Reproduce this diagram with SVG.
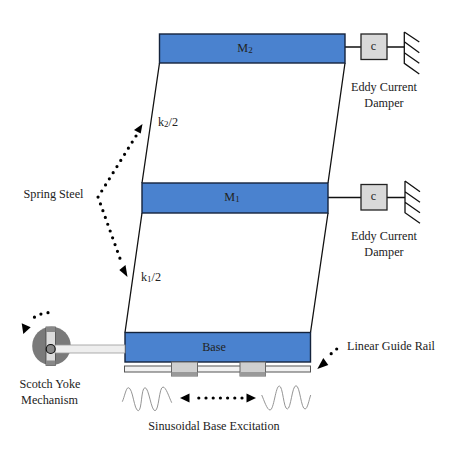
<svg xmlns="http://www.w3.org/2000/svg" width="450" height="450" viewBox="0 0 450 450">
<style>
text{font-family:"Liberation Serif","DejaVu Serif",serif;font-size:12.2px;fill:#222;text-anchor:middle}
.sub{font-size:9px}
.mass{fill:#4a82cf;stroke:#14233c;stroke-width:1.4}
.ln{stroke:#111;stroke-width:1.3;fill:none}
.box{fill:#d9d9d9;stroke:#222;stroke-width:1.3}
.dot{stroke:#000;stroke-width:3.2;stroke-linecap:round;stroke-dasharray:0 7.2;fill:none}
.wave{stroke:#888;stroke-width:.9;fill:none}
.ah{fill:#000}
.sl{fill:#cfcfcf;stroke:#666;stroke-width:1}
</style>
<rect width="450" height="450" fill="#fff"/>
<g id="connectors">
<path class="ln" d="M159.500 63L142 183M345 63L328 183M142 213L125 332.500M328 213L310.500 332.500"/>
<path class="ln" d="M345 47H361M387 47H404M328 197.500H361M387 197.500H405"/>
<path class="dot" d="M136 136L98 197L122 264"/>
<path class="ah" d="M142.500 124L140.700 133.500L134 130Z"/>
<path class="ah" d="M127.500 277L119.300 270L125.500 265Z"/>
<path class="dot" d="M48 312.700L41 314L35 316.700L30 321"/>
<path class="ah" d="M21.700 323.300L30.700 327.300L23.300 334Z"/>
<path class="dot" d="M336.700 349L326 358"/>
<path class="ah" d="M317.300 369L323.300 358L328.300 365Z"/>
<path class="dot" d="M242 398H193"/>
<path class="ah" d="M180 398L189.500 393.500V402.500Z"/>
<path class="ah" d="M256 398L246.500 393.500V402.500Z"/>
</g>
<g id="m2"><rect class="mass" x="159.500" y="34" width="185.500" height="29"/><text x="245" y="52">M<tspan class="sub" dy="1">2</tspan></text></g>
<g id="m1"><rect class="mass" x="142" y="183" width="186" height="30"/><text x="232" y="201">M<tspan class="sub" dy="1">1</tspan></text></g>
<g id="base"><rect class="mass" x="125" y="332.500" width="185.500" height="29.500"/><text x="214" y="351">Base</text></g>
<g id="rail">
<rect x="124.500" y="366" width="186" height="6" fill="#f2f2f2" stroke="#555"/>
<rect class="sl" x="171.500" y="362" width="26" height="14"/><rect x="171.500" y="372" width="26" height="4" fill="#999"/>
<rect class="sl" x="240" y="362" width="25.500" height="14"/><rect x="240" y="372" width="25.500" height="4" fill="#999"/>
</g>
<g id="damper2"><rect class="box" x="361" y="34" width="26" height="25.500"/><text x="373.500" y="50">c</text>
<path class="ln" d="M404.300 32V63.300L419.300 74M404.300 32L419.300 42M404.300 41.700L419.300 52.700M404.300 52.700L419.300 63.300"/></g>
<g id="damper1"><rect class="box" x="361" y="184.500" width="26" height="25.500"/><text x="373.500" y="200">c</text>
<path class="ln" d="M405 181V212.700L420 223.300M405 181L420 191.700M405 191.700L420 202.300M405 202.300L420 212.700"/></g>
<g id="yoke">
<circle cx="51.500" cy="346" r="19.300" fill="#7a7a7a"/>
<rect x="46" y="327" width="9.500" height="38.500" fill="#dcdcdc" stroke="#444" stroke-width=".8"/>
<rect x="46" y="327" width="9.500" height="5" fill="#888"/><rect x="46" y="360.500" width="9.500" height="5" fill="#888"/>
<rect x="55" y="345" width="70" height="8" fill="#eee" stroke="#999" stroke-width=".8"/>
<circle cx="50.700" cy="349" r="4.500" fill="#888" stroke="#111" stroke-width="1.200"/>
</g>
<g id="waves">
<path class="wave" d="M122.300 401.700C124.500 397 126 387.700 128.300 387.700C133 387.700 134 410.700 138.300 410.700C142 410.700 141 387.700 145 387.700C149 387.700 151 410.700 155 410.700C159 410.700 159 387 163 387C166 387 169 397 171.700 402.700"/>
<path class="wave" d="M261.700 395C264 400 267 410 270 410C274 410 275.500 386 279.300 386C283 386 283.500 409 287.300 409C291 409 292 385.700 296 385.700C300 385.700 301 409 305 409C307.500 409 309 400 310.700 395"/>
</g>
<g id="labels">
<text x="50" y="388">Scotch Yoke</text><text x="49.500" y="404">Mechanism</text>
<text x="214" y="430">Sinusoidal Base Excitation</text>
<text x="391" y="350">Linear Guide Rail</text>
<text x="384" y="91">Eddy Current</text><text x="384" y="107">Damper</text>
<text x="384" y="240">Eddy Current</text><text x="384" y="256">Damper</text>
<text x="53.500" y="198">Spring Steel</text>
<text x="168" y="126">k<tspan class="sub" dy="1">2</tspan><tspan dy="-1">/2</tspan></text><text x="151" y="281">k<tspan class="sub" dy="1">1</tspan><tspan dy="-1">/2</tspan></text>
</g>
</svg>
